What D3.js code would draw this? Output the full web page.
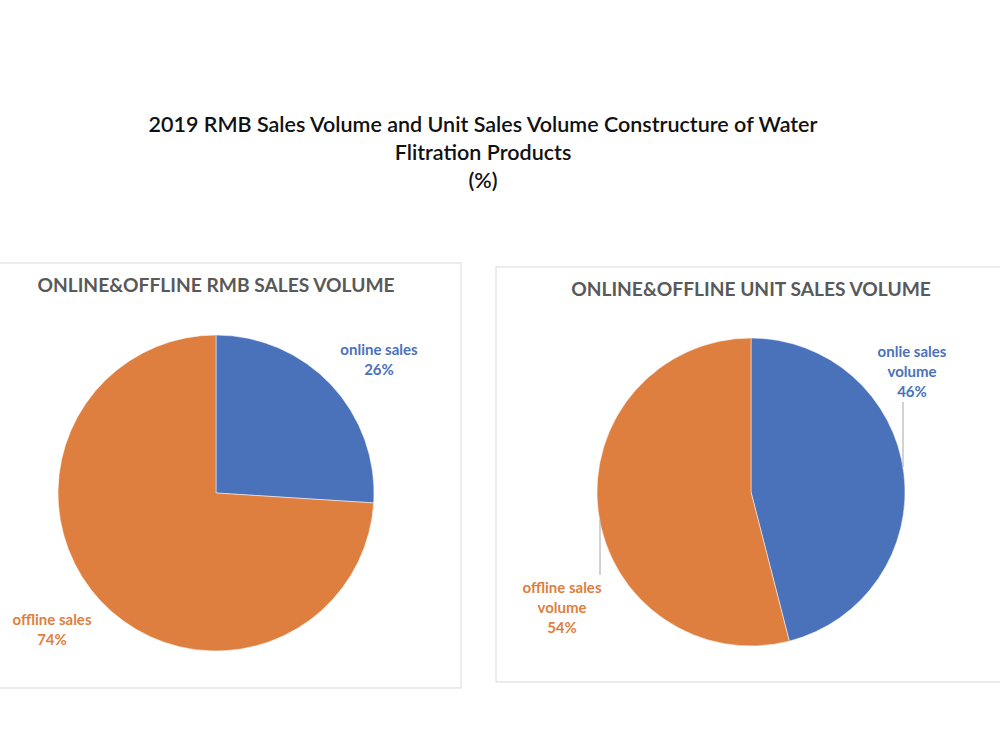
<!DOCTYPE html>
<html lang="en">
  <head>
    <meta charset="utf-8">
    <title>Water filtration sales constructure</title>
    <script src="https://d3js.org/d3.v7.js"></script>
    <style>
      body { margin: 0; background: #fff; }
      text { font-family: Lato, "Open Sans", sans-serif; }
    </style>
  </head>

  <body>

  <script>

// chart data
  var titleLines = ["2019 RMB Sales Volume and Unit Sales Volume Constructure of Water",
                    "Flitration Products",
                    "(%)"];

  var rmbTitle = "ONLINE&OFFLINE RMB SALES VOLUME";
  var rmbCategories = ["online sales", "offline sales"];
  var rmbValues = [26, 74];

  var unitTitle = "ONLINE&OFFLINE UNIT SALES VOLUME";
  var unitCategories = ["onlie sales volume", "offline sales volume"];
  var unitValues = [46, 54];

  var colors = ["#4a72ba", "#de7f40"];

  var w = 1000;
  var h = 750;

  var svg = d3.select("body")
    .append("svg")
      .attr("width", w)
      .attr("height", h);

  // main title
  svg.append("g").selectAll("text")
      .data(titleLines)
      .enter().append("text")
      .attr("x", 483)
      .attr("y", (d, i) => 132 + i * 28)
      .attr("text-anchor", "middle")
      .attr("font-size", 21.5)
      .attr("font-weight", 600)
      .attr("fill", "#111")
      .text(d => d);

  // panels: box, pie centre, radius and label placement (label offsets from centre)
  var panels = [
    { title: rmbTitle, cats: rmbCategories, vals: rmbValues,
      box: [-2, 263, 463, 425], cx: 216, cy: 493, r: 158, titleX: 216, titleY: 292,
      labelPos: [[163, -138, ["online sales"]], [-164, 132, ["offline sales"]]],
      leaders: [] },
    { title: unitTitle, cats: unitCategories, vals: unitValues,
      box: [496, 267, 508, 415], cx: 751, cy: 492, r: 154, titleX: 751, titleY: 296,
      labelPos: [[161, -135, ["onlie sales", "volume"]], [-189, 101, ["offline sales", "volume"]]],
      leaders: [[152, -90, 152, -25], [-151, 28, -151, 83]] }
  ];

  var pie = d3.pie().sort(null).value(d => d);

  panels.forEach(function(p) {
    var g = svg.append("g");

    g.append("rect")
        .attr("x", p.box[0])
        .attr("y", p.box[1])
        .attr("width", p.box[2])
        .attr("height", p.box[3])
        .attr("fill", "#fff")
        .attr("stroke", "#d9d9d9")
        .attr("stroke-width", 1);

    g.append("text")
        .attr("x", p.titleX)
        .attr("y", p.titleY)
        .attr("text-anchor", "middle")
        .attr("font-size", 19.2)
        .attr("font-weight", "bold")
        .attr("fill", "#595959")
        .text(p.title);

    var arc = d3.arc().innerRadius(0).outerRadius(p.r);
    var c = g.append("g").attr("transform", "translate(" + p.cx + "," + p.cy + ")");

    c.selectAll("path")
        .data(pie(p.vals))
        .enter().append("path")
        .attr("d", arc)
        .attr("fill", (d, i) => colors[i])
        .attr("stroke", "#fff")
        .attr("stroke-width", 0.5);

    c.selectAll("line")
        .data(p.leaders)
        .enter().append("line")
        .attr("x1", d => d[0]).attr("y1", d => d[1])
        .attr("x2", d => d[2]).attr("y2", d => d[3])
        .attr("stroke", "#a6a6a6")
        .attr("stroke-width", 1);

    var lab = c.selectAll("text.lab")
        .data(pie(p.vals))
        .enter().append("text")
        .attr("class", "lab")
        .attr("text-anchor", "middle")
        .attr("font-size", 15)
        .attr("font-weight", "bold")
        .attr("fill", (d, i) => colors[i]);

    lab.each(function(d, i) {
      var lp = p.labelPos[i];
      var lines = lp[2].concat([d.data + "%"]);
      d3.select(this).selectAll("tspan")
          .data(lines)
          .enter().append("tspan")
          .attr("x", lp[0])
          .attr("y", (t, j) => lp[1] + j * 20)
          .text(t => t);
    });
  });

    </script>

  </body>

</html>
